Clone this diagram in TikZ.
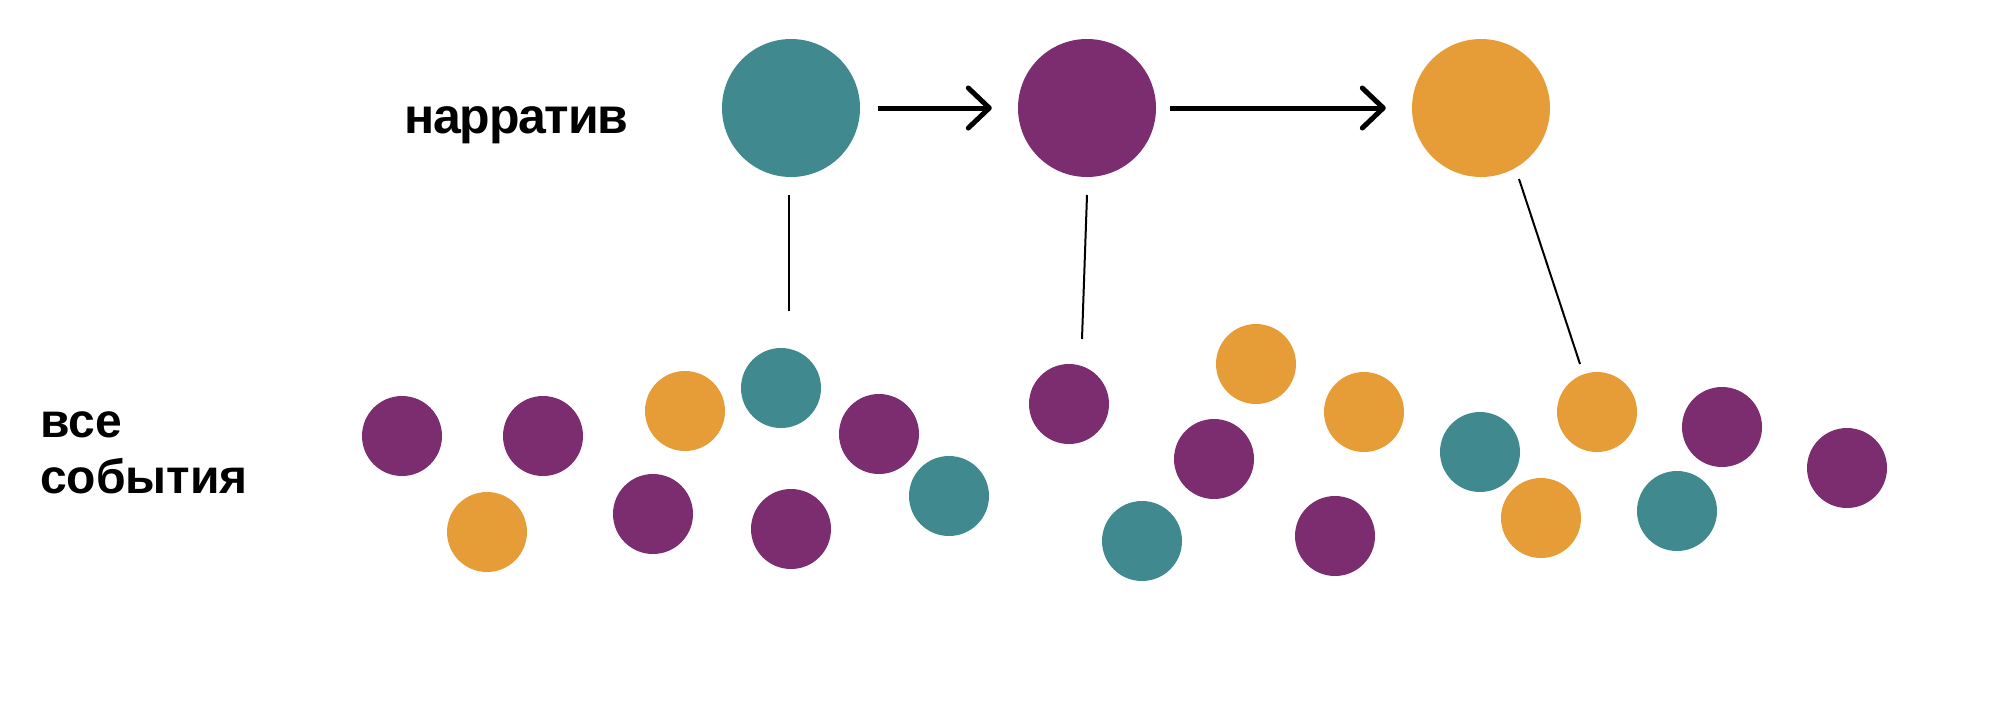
\documentclass[tikz,border=0pt]{standalone}
\usepackage{fontspec}
\setmainfont{Liberation Sans}
\usetikzlibrary{arrows.meta}
\definecolor{teal1}{RGB}{64,137,143}
\definecolor{purp1}{RGB}{123,45,112}
\definecolor{oran1}{RGB}{230,157,55}
\begin{document}
\begin{tikzpicture}[x=1pt,y=-1pt,
  big/.style={circle,inner sep=0pt,minimum size=138pt},
  dot/.style={circle,inner sep=0pt,minimum size=80pt},
  flow/.style={line width=5pt,-{Straight Barb[length=21pt,width=40pt,line width=5pt,round]}},
  link/.style={line width=2pt},
  lbl/.style={anchor=base west,inner sep=0pt}]
\fill[white] (0,0) rectangle (2000,724);
\useasboundingbox (0,0) rectangle (2000,724);
% big circles
\node[big,fill=teal1] (n1) at (791,108) {};
\node[big,fill=purp1] (n2) at (1087,108) {};
\node[big,fill=oran1] (n3) at (1481,108) {};
% labels
\node[lbl,font=\fontsize{50}{60}\selectfont\bfseries\addfontfeature{LetterSpace=-2.5}] (t1) at (404,133) {нарратив};
\node[lbl,font=\fontsize{48}{56}\selectfont\bfseries] (t2) at (40,437) {все};
\node[lbl,font=\fontsize{48}{56}\selectfont\bfseries] (t3) at (40,493) {события};
% small circles
\node[dot,fill=purp1] (s1) at (402,436) {};
\node[dot,fill=purp1] (s2) at (543,436) {};
\node[dot,fill=oran1] (s3) at (487,532) {};
\node[dot,fill=oran1] (s4) at (685,411) {};
\node[dot,fill=teal1] (s5) at (781,388) {};
\node[dot,fill=purp1] (s6) at (653,514) {};
\node[dot,fill=purp1] (s7) at (791,529) {};
\node[dot,fill=purp1] (s8) at (879,434) {};
\node[dot,fill=teal1] (s9) at (949,496) {};
\node[dot,fill=purp1] (s10) at (1069,404) {};
\node[dot,fill=oran1] (s11) at (1256,364) {};
\node[dot,fill=purp1] (s12) at (1214,459) {};
\node[dot,fill=oran1] (s13) at (1364,412) {};
\node[dot,fill=teal1] (s14) at (1142,541) {};
\node[dot,fill=purp1] (s15) at (1335,536) {};
\node[dot,fill=teal1] (s16) at (1480,452) {};
\node[dot,fill=oran1] (s17) at (1597,412) {};
\node[dot,fill=oran1] (s18) at (1541,518) {};
\node[dot,fill=purp1] (s19) at (1722,427) {};
\node[dot,fill=teal1] (s20) at (1677,511) {};
\node[dot,fill=purp1] (s21) at (1847,468) {};
% arrows
\draw[flow,shorten <=18pt,shorten >=26pt] (n1) -- (n2);
\draw[flow,shorten <=14pt,shorten >=26pt] (n2) -- (n3);
% links
\coordinate (a1) at (789,195); \coordinate (b1) at (789,311);
\coordinate (a2) at (1087,195); \coordinate (b2) at (1082,339);
\coordinate (a3) at (1519,179); \coordinate (b3) at (1580,364);
\draw[link] (a1) -- (b1);
\draw[link] (a2) -- (b2);
\draw[link] (a3) -- (b3);
\end{tikzpicture}
\end{document}
